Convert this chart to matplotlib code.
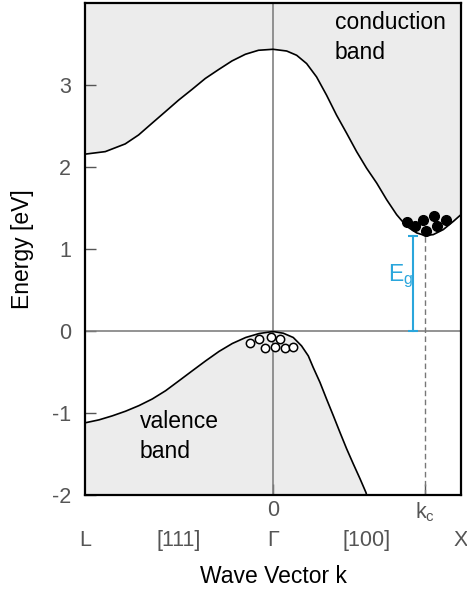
import matplotlib
matplotlib.use("Agg")
import matplotlib.pyplot as plt

plt.rcParams["font.family"] = ["Liberation Sans", "DejaVu Sans"]
plt.rcParams["mathtext.default"] = "regular"
plt.rcParams["axes.unicode_minus"] = False

# ── data (k in units of Γ→X / Γ→L, energy in eV) ──
cb_k = [-1.0, -0.892, -0.786, -0.715, -0.644, -0.573, -0.502, -0.431, -0.360,
        -0.289, -0.218, -0.147, -0.077, 0.0, 0.073, 0.126, 0.179, 0.232, 0.285,
        0.338, 0.392, 0.445, 0.498, 0.552, 0.605, 0.658, 0.711, 0.764, 0.809,
        0.853, 0.906, 0.960, 1.0]
cb_e = [2.156, 2.187, 2.281, 2.390, 2.532, 2.673, 2.815, 2.945, 3.079,
        3.188, 3.293, 3.374, 3.423, 3.435, 3.414, 3.362, 3.261, 3.098, 2.876,
        2.633, 2.411, 2.187, 1.985, 1.803, 1.600, 1.418, 1.276, 1.196, 1.163,
        1.175, 1.236, 1.337, 1.418]

vb_k = [-1.0, -0.926, -0.855, -0.784, -0.713, -0.642, -0.571, -0.500, -0.429,
        -0.358, -0.287, -0.216, -0.145, -0.074, 0.0, 0.055, 0.108, 0.152, 0.188,
        0.214, 0.250, 0.285, 0.321, 0.356, 0.392, 0.427, 0.463, 0.495, 0.52]
vb_e = [-1.121, -1.085, -1.036, -0.979, -0.911, -0.830, -0.729, -0.608, -0.486,
        -0.365, -0.250, -0.153, -0.080, -0.032, -0.007, -0.028, -0.080, -0.182, -0.304,
        -0.445, -0.627, -0.830, -1.033, -1.235, -1.438, -1.620, -1.802, -1.972, -2.2]

electron_k = [0.713, 0.796, 0.858, 0.920, 0.757, 0.815, 0.872]
electron_e = [1.324, 1.357, 1.397, 1.357, 1.284, 1.224, 1.284]

hole_k = [-0.121, -0.073, -0.011, 0.039, -0.041, 0.012, 0.065, 0.104]
hole_e = [-0.153, -0.101, -0.068, -0.101, -0.210, -0.202, -0.210, -0.194]

k_c = 0.81
cb_min = 1.163
eg_k = 0.745
eg_top = 1.155

yticks = [-2, -1, 0, 1, 2, 3]
xtick_pos = [0, k_c]
xtick_labels = ["0", "k$_c$"]
dir_pos = [-1, -0.5, 0, 0.5, 1]
dir_labels = ["L", "[111]", "Γ", "[100]", "X"]

GRAY = "#555555"
FILL = "#ececec"
CYAN = "#2aa6dc"

fig = plt.figure(figsize=(4.67, 5.92), dpi=100)
ax = fig.add_axes([0.182, 0.164, 0.805, 0.831])

# bands
ax.fill_between(cb_k, cb_e, 4.5, color=FILL, lw=0)
ax.fill_between(vb_k, vb_e, -3, color=FILL, lw=0)
ax.axhline(0, color="#808080", lw=1.2, zorder=2)
ax.axvline(0, color="#808080", lw=1.2, zorder=2)
ax.plot(cb_k, cb_e, color="black", lw=1.2, zorder=3, solid_joinstyle="round")
ax.plot(vb_k, vb_e, color="black", lw=1.2, zorder=3, solid_joinstyle="round")

# k_c marker and gap
ax.plot([k_c, k_c], [-2, cb_min], ls=(0, (4, 2.5)), color="#777777", lw=1.0, zorder=2)
ax.plot([eg_k, eg_k], [0, eg_top], color=CYAN, lw=1.5, marker="_",
        markersize=7, mew=1.5, zorder=4)
ax.text(eg_k - 0.065, 0.67, "E$_g$", color=CYAN, fontsize=16.5, ha="center", va="center")

# carriers
ax.plot(electron_k, electron_e, "o", color="black", markersize=7.0, zorder=5)
ax.plot(hole_k, hole_e, "o", mfc="white", mec="black", markersize=6, mew=1.1, zorder=5)

ax.text(0.33, 3.9, "conduction\nband", fontsize=16.5, ha="left", va="top", linespacing=1.4)
ax.text(-0.71, -0.96, "valence\nband", fontsize=16.5, ha="left", va="top", linespacing=1.4)

ax.set_xlim(-1, 1)
ax.set_ylim(-2, 4)
ax.set_yticks(yticks)
ax.set_xticks(xtick_pos)
ax.set_xticklabels(xtick_labels)
ax.tick_params(direction="in", length=8, width=1, color=GRAY, labelcolor=GRAY,
               labelsize=15.5)
ax.tick_params(axis="y", pad=10)
ax.tick_params(axis="x", pad=4)

for xp, lab in zip(dir_pos, dir_labels):
    ax.text(xp, -0.093, lab, transform=ax.get_xaxis_transform(), color=GRAY,
            fontsize=15.5, ha="center", va="center")

for s in ax.spines.values():
    s.set_linewidth(1.6)
    s.set_color("black")

ax.set_xlabel("Wave Vector k", fontsize=16.5)
ax.xaxis.set_label_coords(0.5, -0.142)
ax.set_ylabel("Energy [eV]", fontsize=16.5)
ax.yaxis.set_label_coords(-0.135, 0.5)

fig.savefig("out.png", dpi=100)
